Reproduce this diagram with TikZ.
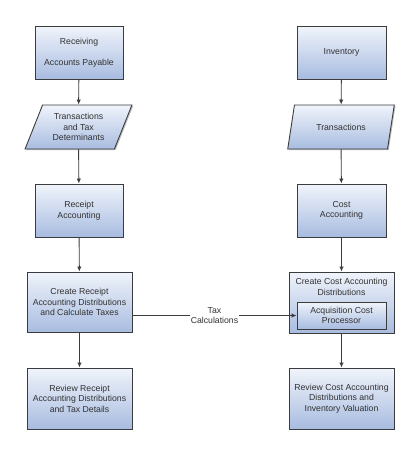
\documentclass[tikz,border=0pt]{standalone}
\usepackage{fontspec}
\setmainfont{Liberation Sans}
\usetikzlibrary{shapes.geometric,shadows,arrows.meta}
\definecolor{boxtop}{RGB}{240,244,251}
\definecolor{boxbot}{RGB}{168,188,224}
\definecolor{edge}{RGB}{60,60,60}
\definecolor{txt}{RGB}{50,50,50}
\tikzset{
  base/.style={draw=edge, line width=0.9pt, top color=boxtop, bottom color=boxbot,
    text=txt, align=center, font=\fontsize{8.7}{10.5}\selectfont,
    drop shadow={shadow xshift=1.2pt, shadow yshift=-1.2pt, fill=black, opacity=0.25}},
  procbox/.style={base, rectangle, minimum width=#1, inner sep=1pt},
  databox/.style={base, trapezium, trapezium left angle=66, trapezium right angle=114,
    trapezium stretches=true, minimum width=107pt, minimum height=44pt, inner sep=1pt},
  conn/.style={draw=edge, line width=0.9pt, -{Latex[length=5pt,width=4.5pt]}},
}
\begin{document}
\begin{tikzpicture}[x=1pt,y=-1pt]
\useasboundingbox (0,0) rectangle (420,455);
% left column
\node[procbox=88pt, minimum height=53pt] (recv) at (79,52.5) {Receiving\\[10.5pt]Accounts Payable};
\node[databox] (ttd) at (78.5,127) {Transactions\\and Tax\\Determinants};
\node[procbox=88pt, minimum height=53pt] (ra) at (79,210.5) {Receipt\\Accounting};
\node[procbox=105pt, minimum height=60pt] (crd) at (79.5,302) {Create Receipt\\Accounting Distributions\\and Calculate Taxes};
\node[procbox=105pt, minimum height=61pt] (rrd) at (79.5,398.5) {Review Receipt\\Accounting Distributions\\and Tax Details};
% right column
\node[procbox=89pt, minimum height=53pt] (inv) at (341.5,52.5) {Inventory};
\node[databox] (tr) at (341,127) {Transactions};
\node[procbox=89pt, minimum height=53pt] (ca) at (341.5,210.5) {Cost\\Accounting};
\node[procbox=105pt, minimum height=61pt] (ccd) at (341.5,302.5) {};
\node[text=txt, align=center, font=\fontsize{8.7}{10.5}\selectfont, anchor=north] (ccdt) at (341.5,275) {Create Cost Accounting\\Distributions};
\node[procbox=89pt, minimum height=27pt] (acp) at (341.5,315.5) {Acquisition Cost\\Processor};
\node[procbox=105pt, minimum height=61pt] (rcd) at (341.5,398.5) {Review Cost Accounting\\Distributions and\\Inventory Valuation};
% connectors
\draw[conn] (recv) -- (ttd);
\draw[conn] (ttd) -- (ra);
\draw[conn] (ra) -- (crd);
\draw[conn] (crd) -- (rrd);
\draw[conn] (inv) -- (tr);
\draw[conn] (tr) -- (ca);
\draw[conn] (ca) -- (ccd);
\draw[conn] (ccd) -- (rcd);
\draw[conn] (crd.east |- acp.west) -- node[fill=white, text=txt, align=center, inner sep=1pt,
  font=\fontsize{8.7}{10.5}\selectfont] (taxl) {Tax\\Calculations} (acp.west);
\end{tikzpicture}
\end{document}
